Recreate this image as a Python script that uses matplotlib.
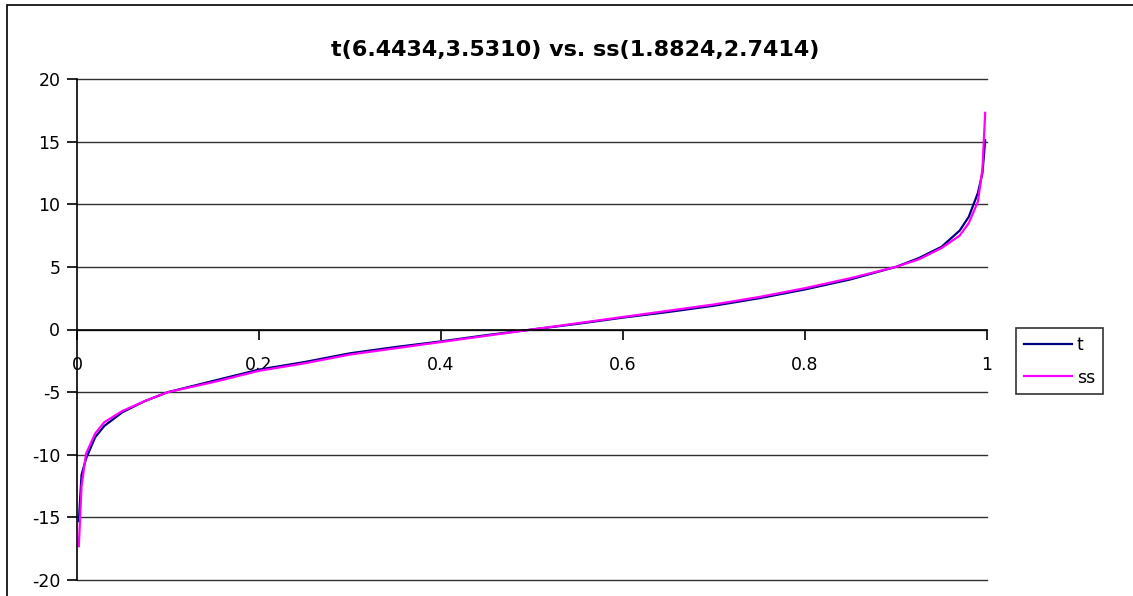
import matplotlib.pyplot as plt
from matplotlib.patches import Rectangle

plt.rcParams['font.family'] = ['DejaVu Sans']
plt.rcParams['axes.unicode_minus'] = False

# probability levels and quantiles of the two fitted distributions
p = [0.002, 0.005, 0.01, 0.02, 0.03, 0.05, 0.075, 0.1, 0.15, 0.2, 0.25,
     0.3, 0.35, 0.4, 0.45, 0.5, 0.55, 0.6, 0.65, 0.7, 0.75, 0.8, 0.85,
     0.9, 0.925, 0.95, 0.97, 0.98, 0.99, 0.995, 0.998]
t_q = [-15.3, -11.6, -10.3, -8.6, -7.7, -6.6, -5.7, -5.0, -4.1, -3.2, -2.6,
       -1.9, -1.4, -0.95, -0.45, 0.0, 0.45, 0.95, 1.4, 1.9, 2.5, 3.2, 4.0,
       5.0, 5.7, 6.6, 7.9, 9.0, 10.9, 12.5, 15.1]
ss_q = [-17.3, -12.5, -9.9, -8.3, -7.4, -6.5, -5.7, -5.0, -4.2, -3.3, -2.7,
        -2.0, -1.5, -1.0, -0.5, 0.0, 0.5, 1.0, 1.5, 2.0, 2.6, 3.3, 4.1,
        5.0, 5.6, 6.5, 7.5, 8.5, 10.2, 12.8, 17.3]

x_ticks = [0, 0.2, 0.4, 0.6, 0.8, 1]
x_labels = ['0', '0.2', '0.4', '0.6', '0.8', '1']
y_ticks = [-20, -15, -10, -5, 0, 5, 10, 15, 20]

W, H = 1133, 596
fig = plt.figure(figsize=(W / 100, H / 100), dpi=100)
fig.patch.set_facecolor('white')

# outer chart frame
fig.patches.append(Rectangle((7 / W, -0.05), 1.2, 1 - 5 / H + 0.05,
                             transform=fig.transFigure, fill=False,
                             edgecolor='black', linewidth=1.2))

ax = fig.add_axes([77 / W, (H - 580) / H, (987 - 77) / W, (580 - 79) / H])
ax.plot(p, t_q, color='#000080', lw=1.6, label='t')
ax.plot(p, ss_q, color='#FF00FF', lw=1.6, label='ss')

ax.set_xlim(0, 1)
ax.set_ylim(-20, 20)
ax.set_xticks(x_ticks)
ax.set_xticklabels(x_labels)
ax.set_yticks(y_ticks)

for s in ['top', 'right']:
    ax.spines[s].set_visible(False)
ax.spines['bottom'].set_position(('data', 0))
ax.spines['left'].set_linewidth(1.2)
ax.spines['bottom'].set_linewidth(1.2)

ax.yaxis.grid(True, color='#303030', lw=1.0)
ax.set_axisbelow(True)
for g in ax.get_ygridlines():
    g.set_clip_on(False)

ax.tick_params(axis='y', direction='out', length=7, width=1.2, labelsize=12.5, pad=5)
ax.tick_params(axis='x', direction='out', length=7, width=1.2, labelsize=12.5, pad=12)

fig.text(575 / W, (H - 50) / H, 't(6.4434,3.5310) vs. ss(1.8824,2.7414)',
         fontsize=16, fontweight='bold', ha='center', va='center')

leg = ax.legend(loc='upper left', bbox_to_anchor=(1016 / W, (H - 328) / H),
                bbox_transform=fig.transFigure, frameon=True, fancybox=False,
                edgecolor='black', fontsize=12.5, handlelength=2.8,
                borderpad=0.45, labelspacing=0.85, handletextpad=0.25,
                borderaxespad=0)
leg.get_frame().set_linewidth(1.2)

fig.savefig('out.png', dpi=100)
